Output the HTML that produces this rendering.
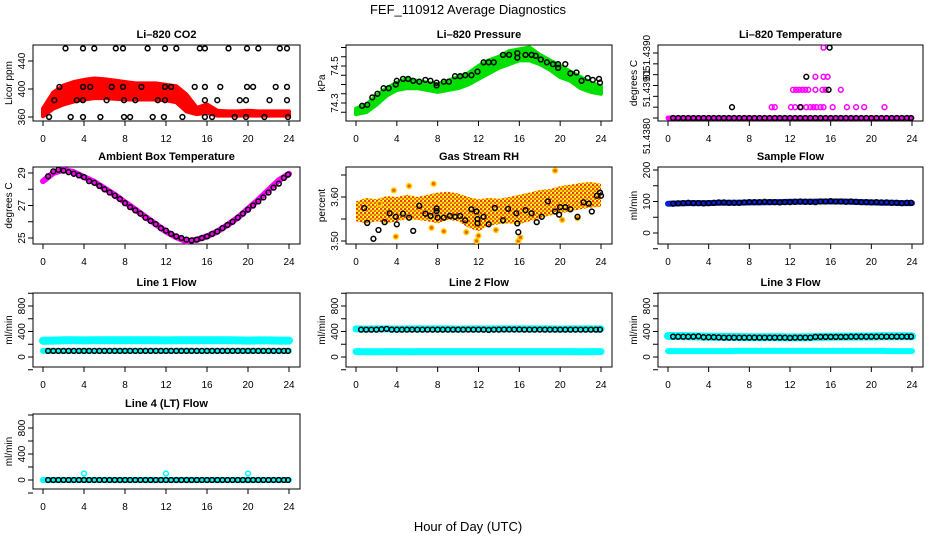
<!DOCTYPE html>
<html><head><meta charset="utf-8">
<style>
html,body{margin:0;padding:0;background:#fff;}
svg{display:block;font-family:"Liberation Sans",Arial,sans-serif;}
</style></head>
<body>
<svg id="chart" width="936" height="540" viewBox="0 0 936 540" xmlns="http://www.w3.org/2000/svg">
<defs>
<pattern id="rhpat" width="4" height="4" patternUnits="userSpaceOnUse">
<rect width="4" height="4" fill="#ffe000"/>
<rect x="0" y="0" width="2" height="2" fill="#f04000"/>
<rect x="2" y="2" width="2" height="2" fill="#f07000"/>
<rect x="3" y="0" width="1" height="1" fill="#fff"/>
</pattern>
</defs>
<text x="468" y="14" font-size="13" text-anchor="middle">FEF_110912  Average Diagnostics</text>
<text x="468" y="531" font-size="13" text-anchor="middle">Hour of Day (UTC)</text>
</svg>
<script>
// ---- data ----
const xTicks = [0,4,8,12,16,20,24];
const bandHours = [0,1,2,3,4,5,6,7,8,9,10,11,12,13,14,15,16,17,18,19,20,21,22,23,24];
const halfHours = [0.5,1,1.5,2,2.5,3,3.5,4,4.5,5,5.5,6,6.5,7,7.5,8,8.5,9,9.5,10,10.5,11,11.5,12,12.5,13,13.5,14,14.5,15,15.5,16,16.5,17,17.5,18,18.5,19,19.5,20,20.5,21,21.5,22,22.5,23,23.5,23.9];

// CO2
const co2Low  = [361,372,378,382,385,387,387,386,385,385,385,385,384,381,368,364,366,362,362,362,362,362,362,362,362];
const co2High = [372,395,405,410,413,415,414,412,410,408,408,408,406,404,392,373,378,369,368,368,369,368,368,368,368];
const co2BlackH = [2.2,3.9,5.0,7.1,7.8,10.2,11.9,13.0,15.3,15.8,18.1,19.9,21.0,23.1,23.8, 1.6,3.9,4.6,6.7,7.8,9.6,11.9,12.5,14.8,15.8,17.3,19.9,20.5,22.7,23.8, 1.1,3.3,3.9,6.2,7.9,9.0,11.2,11.9,15.8,17.0,19.2,19.8,22.1,23.8, 0.6,2.7,3.9,5.6,7.9,8.5,10.7,11.8,13.6,15.8,16.5,18.7,19.8,21.6,23.9];
const co2BlackV = [458,458,458,458,458,458,458,458,458,458,458,458,458,458,458, 403,403,403,403,403,403,403,403,403,403,403,403,403,403,403, 384,384,384,384,384,384,384,384,384,384,384,384,384,384, 360,360,360,360,360,360,360,360,360,360,360,360,360,360,360];

// Pressure
const presLow  = [74.24,74.25,74.29,74.34,74.37,74.38,74.38,74.37,74.36,74.37,74.38,74.40,74.43,74.46,74.49,74.51,74.53,74.53,74.51,74.48,74.44,74.42,74.38,74.36,74.35];
const presHigh = [74.27,74.29,74.34,74.38,74.41,74.43,74.42,74.41,74.40,74.42,74.44,74.46,74.50,74.53,74.55,74.58,74.59,74.60,74.56,74.53,74.50,74.47,74.44,74.41,74.39];
const presBlackH = [0.6,1.1,1.6,2.1,2.7,3.2,3.9,4.0,4.6,5.1,5.6,6.2,6.8,7.3,7.9,7.9,8.6,9.1,9.7,10.2,10.7,11.3,11.9,12.5,13.0,13.5,14.4,15.0,15.8,15.8,16.6,17.2,17.6,18.1,18.7,19.3,19.8,19.8,20.5,21.0,21.6,22.1,22.7,23.2,23.8,23.9];
const presBlackV = [74.285,74.29,74.33,74.35,74.38,74.38,74.40,74.42,74.43,74.43,74.42,74.415,74.425,74.42,74.41,74.395,74.415,74.415,74.445,74.445,74.45,74.45,74.47,74.52,74.52,74.52,74.56,74.56,74.57,74.545,74.56,74.56,74.555,74.535,74.52,74.51,74.51,74.49,74.51,74.46,74.465,74.42,74.435,74.425,74.43,74.41];

// Li-820 temperature (tick level index)
const ltTickLabels = ["51.4380","51.4390","","","51","","51.4390"];
const ltPinkH = [10.2,10.5,12.1,12.5,13.1,13.6,14.0,14.3,14.6,15.0,15.3,16.2,17.6,18.5,19.3,21.3, 12.3,12.6,12.9,13.2,13.5,13.8,14.5,15.2,15.5,17.0, 14.5,15.3,15.7, 15.3];
const ltPinkV = [1,1,1,1,1,1,1,1,1,1,1,1,1,1,1,1, 2.6,2.6,2.6,2.6,2.6,2.6,2.6,2.6,2.6,2.6, 3.8,3.8,3.8, 6.5];
const ltBlackH = [6.3,13.0,15.8,13.6,15.9];
const ltBlackV = [1,1,2.6,3.8,6.5];

// Ambient temperature
const ambMag = [28.5,29.0,29.2,29.05,28.75,28.45,28.05,27.65,27.2,26.75,26.3,25.85,25.4,25.05,24.8,24.9,25.1,25.4,25.8,26.25,26.8,27.35,27.95,28.55,28.95];
const ambBlack = [28.8,29.1,29.2,29.15,29.05,28.95,28.85,28.75,28.5,28.4,28.2,28.0,27.8,27.6,27.4,27.15,26.9,26.7,26.5,26.25,26.05,25.85,25.6,25.45,25.25,25.1,25.0,24.9,24.85,24.9,25.0,25.1,25.25,25.4,25.6,25.8,26.0,26.25,26.5,26.75,27.0,27.25,27.5,27.8,28.1,28.35,28.7,28.9];

// Gas stream RH
const rhLow  = [3.545,3.540,3.545,3.540,3.545,3.550,3.548,3.545,3.540,3.548,3.545,3.530,3.522,3.535,3.538,3.540,3.538,3.545,3.552,3.558,3.562,3.568,3.572,3.576,3.578];
const rhHigh = [3.590,3.598,3.595,3.602,3.600,3.605,3.600,3.605,3.610,3.612,3.608,3.600,3.595,3.598,3.596,3.600,3.605,3.610,3.616,3.618,3.625,3.628,3.632,3.634,3.630];
const rhYellowH = [2.3,3.7,5.2,7.6,3.9,7.4,8.6,13.7,15.9,19.5,20.2,12.0,11.8,16.1,21.7,10.8];
const rhYellowV = [3.585,3.615,3.625,3.630,3.510,3.530,3.522,3.525,3.500,3.660,3.548,3.512,3.500,3.508,3.552,3.520];
const rhBlackH = [0.8,1.1,1.7,2.2,2.8,3.3,3.9,4.0,4.6,5.2,5.6,6.2,6.8,7.3,7.9,7.9,8.0,8.6,9.2,9.7,10.2,10.7,11.3,11.8,11.9,11.9,12.5,13.0,13.6,14.4,14.9,15.7,15.8,15.9,16.6,17.2,17.7,18.2,18.8,19.5,19.9,20.0,20.5,21.0,21.7,22.3,22.8,23.1,23.6,23.9,24.0];
const rhBlackV = [3.575,3.541,3.505,3.525,3.543,3.563,3.555,3.538,3.562,3.553,3.523,3.580,3.562,3.557,3.574,3.568,3.553,3.553,3.557,3.555,3.557,3.547,3.572,3.567,3.550,3.540,3.555,3.538,3.575,3.547,3.573,3.563,3.540,3.520,3.570,3.563,3.543,3.555,3.590,3.567,3.560,3.577,3.577,3.572,3.555,3.588,3.585,3.567,3.603,3.610,3.603];

// Sample flow
const sfBlue = [93,94,95,95,95,96,96,96,97,97,98,98,99,99,99,100,100,100,99,98,97,96,96,95,95];
const sfBlack = [93,94,95,96,95,95,94,95,96,97,97,96,96,96,97,98,98,98,99,98,98,97,98,98,99,100,99,99,98,100,100,101,100,100,99,100,99,98,98,97,98,97,97,96,96,95,96,96];

// Line flows
const l1Upper = [255,258,262,262,260,262,262,262,262,262,262,262,260,262,262,262,262,262,262,260,258,260,260,258,258];
const l1Lower = [95,95,95,95,95,95,95,95,95,95,95,95,95,95,95,95,95,95,95,95,95,95,95,95,95];
const l1Black = [95,95,95,95,95,95,95,95,95,95,95,95,95,95,95,95,95,95,95,95,95,95,95,95,95,95,95,95,95,95,95,95,95,95,95,95,95,95,95,95,95,95,95,95,95,95,95,95];
const l2Upper = [440,438,440,440,438,440,440,440,440,440,438,440,440,440,440,440,440,440,440,440,438,440,440,440,440];
const l2Lower = [85,82,82,85,85,82,85,85,85,85,85,85,85,85,85,85,85,85,85,85,85,85,82,85,85];
const l2Black = [430,430,430,430,435,440,430,428,430,430,430,430,430,430,430,430,430,430,430,430,430,430,430,430,430,425,430,430,432,432,432,432,430,430,430,430,430,430,430,430,430,430,430,430,430,430,430,430];
const l3Upper = [330,328,325,322,318,315,315,312,310,310,310,310,308,308,310,315,318,320,320,322,322,325,325,325,325];
const l3Lower = [92,92,92,92,92,92,92,95,95,95,95,95,95,95,95,95,95,95,95,95,95,95,92,92,92];
const l3Black = [320,318,318,318,320,325,310,310,310,308,305,305,305,305,305,305,305,305,305,305,305,305,302,300,305,305,305,305,315,315,315,315,315,315,315,318,318,318,318,318,318,318,320,320,320,320,320,320];
const l4Line = [0,0,0,0,0,0,0,0,0,0,0,0,0,0,0,0,0,0,0,0,0,0,0,0,0];
const l4Black = [0,0,0,0,0,0,0,0,0,0,0,0,0,0,0,0,0,0,0,0,0,0,0,0,0,0,0,0,0,0,0,0,0,0,0,0,0,0,0,0,0,0,0,0,0,0,0,0];
const l4SpikeH = [4,12,20];
const l4SpikeV = [100,100,100];
</script>
<script>
const NS = "http://www.w3.org/2000/svg";
const svg = document.getElementById('chart');
function mk(tag, attrs, parent) {
  const e = document.createElementNS(NS, tag);
  for (const k in attrs) e.setAttribute(k, attrs[k]);
  (parent || svg).appendChild(e);
  return e;
}
const cols = [[33,300],[346,612],[658,923]];
const rows = [[45,121],[167,244],[293,367],[414,489]];

function panel(name, c, r, title, ytitle, yd, yr, ticks, tickLabels, minorTicks, labelAnchors) {
  const g = mk('g', {});
  
  
  const L = cols[c][0], R = cols[c][1], T = rows[r][0], B = rows[r][1];
  const p = {g, L, R, T, B,
    x: h => (L + 10) + h / 24 * (R - L - 21),
    y: v => yr[0] + (v - yd[0]) / (yd[1] - yd[0]) * (yr[1] - yr[0])};
  const box = mk('rect', {x:L, y:T, width:R-L, height:B-T, fill:'none', stroke:'#000', 'stroke-width':1}, g);
  
  
  const t = mk('text', {x:(L+R)/2, y:T-7, 'font-size':11, 'font-weight':'bold', 'text-anchor':'middle'}, g);
  t.textContent = title;
  
  
  const yt = mk('text', {x:0, y:0, 'font-size':10, 'text-anchor':'middle', transform:`translate(${L-21},${(T+B)/2}) rotate(-90)`}, g);
  yt.textContent = ytitle;
  
  
  mk('line', {x1:p.x(0), x2:p.x(24), y1:B, y2:B, stroke:'#000'}, g);
  xTicks.forEach(h => {
    mk('line', {x1:p.x(h), x2:p.x(h), y1:B, y2:B+5, stroke:'#000'}, g);
    const tl = mk('text', {x:p.x(h), y:B+21, 'font-size':10, 'text-anchor':'middle'}, g);
    tl.textContent = h;
    
    
  });
  (minorTicks || ticks).forEach(v => mk('line', {x1:L-5, x2:L, y1:p.y(v), y2:p.y(v), stroke:'#000'}, g));
  ticks.forEach((v, i) => {
    const lab = tickLabels[i];
    if (lab === '') return;
    const anc = labelAnchors ? labelAnchors[i] : 'middle';
    const yl = mk('text', {x:0, y:0, 'font-size':10, 'text-anchor':anc, transform:`translate(${L-8},${p.y(v)}) rotate(-90)`}, g);
    yl.textContent = lab;
    
    
  });
  return p;
}
function band(p, hs, lo, hi, color, name, sw) {
  let d = hs.map((h,i)=>(i?'L':'M')+p.x(h).toFixed(1)+','+p.y(lo[i]).toFixed(1)).join('');
  for (let i = hs.length-1; i >= 0; i--) d += 'L'+p.x(hs[i]).toFixed(1)+','+p.y(hi[i]).toFixed(1);
  const e = mk('path', {d: d+'Z', fill:color, stroke:color, 'stroke-width':sw===undefined?4:sw, 'stroke-linejoin':'round'}, p.g);
  
  
}
function thick(p, hs, vs, color, w, name) {
  const d = hs.map((h,i)=>(i?'L':'M')+p.x(h).toFixed(1)+','+p.y(vs[i]).toFixed(1)).join('');
  const e = mk('path', {d, fill:'none', stroke:color, 'stroke-width':w, 'stroke-linecap':'round', 'stroke-linejoin':'round'}, p.g);
  
  
}
function pts(p, hs, vs, color, name, fill) {
  hs.forEach((h,i) => {
    const c = mk('circle', {cx:p.x(h).toFixed(1), cy:p.y(vs[i]).toFixed(1), r:2.4, fill:fill||'none', stroke:color, 'stroke-width':1.5}, p.g);
    
    
  });
}

let p = panel('co2', 0, 0, 'Li–820 CO2', 'Licor ppm', [360,440], [117,61], [360,400,440], ['360','400','440']);
band(p, bandHours, co2Low, co2High, '#f00', 'co2-red-band');
pts(p, co2BlackH, co2BlackV, '#000', 'co2-average-point');

p = panel('pressure', 1, 0, 'Li–820 Pressure', 'kPa', [74.3,74.5], [103,66], [74.2,74.3,74.4,74.5,74.6], ['','74.3','','74.5',''], [74.25,74.3,74.35,74.4,74.45,74.5,74.55,74.6]);
band(p, bandHours, presLow, presHigh, '#00e000', 'pressure-green-band');
pts(p, presBlackH, presBlackV, '#000', 'pressure-average-point');

p = panel('li-temp', 2, 0, 'Li–820 Temperature', 'degrees C', [0,6], [118,53], [0,1,2,3,4,5,6], ltTickLabels, null, ['end','start','middle','middle','middle','middle','middle']);
thick(p, [0,24], [0,0], '#f0f', 5, 'li-temp-pink-band');
pts(p, ltPinkH, ltPinkV, '#f0f', 'li-temp-pink-point');
pts(p, halfHours, halfHours.map(()=>0), '#000', 'li-temp-average-point');
pts(p, ltBlackH, ltBlackV, '#000', 'li-temp-average-point');

p = panel('ambient', 0, 1, 'Ambient Box Temperature', 'degrees C', [25,29], [238,173], [25,26,27,28,29], ['25','','27','','29']);
thick(p, bandHours, ambMag, '#f0f', 6, 'ambient-magenta-line');
pts(p, halfHours, ambBlack, '#000', 'ambient-average-point');

p = panel('rh', 1, 1, 'Gas Stream RH', 'percent', [3.5,3.6], [241,197], [3.5,3.55,3.6,3.65], ['3.50','','3.60','']);
band(p, bandHours, rhLow, rhHigh, 'url(#rhpat)', 'rh-orange-band', 0);
pts(p, rhYellowH, rhYellowV, '#ffd000', 'rh-yellow-point', '#f06000');
pts(p, rhBlackH, rhBlackV, '#000', 'rh-average-point');

p = panel('sample-flow', 2, 1, 'Sample Flow', 'ml/min', [0,200], [233,170], [-50,0,50,100,150,200], ['','0','','100','','200']);
thick(p, bandHours, sfBlue, '#0020e0', 6, 'sample-flow-blue-line');
pts(p, halfHours, sfBlack, '#000', 'sample-flow-average-point');

const fT = [-200,0,200,400,600,800,1000], fL = ['','0','','400','','800',''];
function fy(r){ return r===2 ? [357,306] : [480,428]; }
p = panel('line1-flow', 0, 2, 'Line 1 Flow', 'ml/min', [0,800], fy(2), fT, fL);
thick(p, bandHours, l1Upper, '#0ff', 8, 'line1-upper-cyan');
thick(p, bandHours, l1Lower, '#0ff', 6, 'line1-lower-cyan');
pts(p, halfHours, l1Black, '#000', 'line1-average-point');
p = panel('line2-flow', 1, 2, 'Line 2 Flow', 'ml/min', [0,800], fy(2), fT, fL);
thick(p, bandHours, l2Upper, '#0ff', 7, 'line2-upper-cyan');
thick(p, bandHours, l2Lower, '#0ff', 7, 'line2-lower-cyan');
pts(p, halfHours, l2Black, '#000', 'line2-average-point');
p = panel('line3-flow', 2, 2, 'Line 3 Flow', 'ml/min', [0,800], fy(2), fT, fL);
thick(p, bandHours, l3Upper, '#0ff', 8, 'line3-upper-cyan');
thick(p, bandHours, l3Lower, '#0ff', 6, 'line3-lower-cyan');
pts(p, halfHours, l3Black, '#000', 'line3-average-point');
p = panel('line4-flow', 0, 3, 'Line 4 (LT) Flow', 'ml/min', [0,800], fy(3), fT, fL);
thick(p, bandHours, l4Line, '#0ff', 6, 'line4-cyan');
pts(p, l4SpikeH, l4SpikeV, '#0ff', 'line4-cyan-spike');
pts(p, halfHours, l4Black, '#000', 'line4-average-point');
</script>
</body></html>
